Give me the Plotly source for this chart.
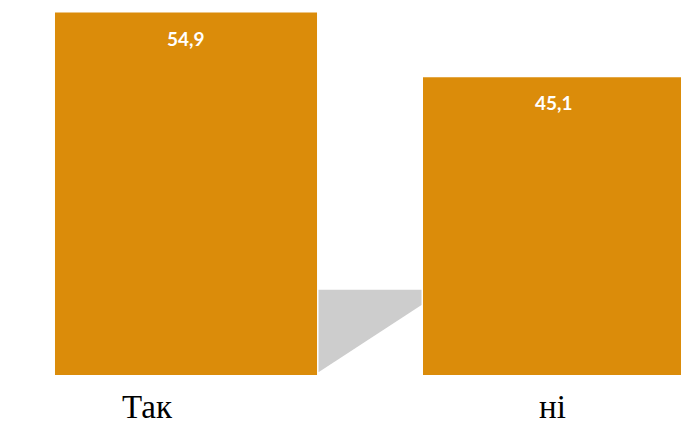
import plotly.graph_objects as go

categories = ["Так", "ні"]
values = [54.9, 45.1]
value_labels = [f"{v:.1f}".replace(".", ",") for v in values]

BAR_COLOR = "#DB8C0A"

fig = go.Figure()
fig.add_trace(go.Bar(
    x=[0, 1], y=values,
    marker=dict(color=BAR_COLOR, line=dict(width=0)),
    width=0.712,
    hoverinfo="skip",
))

# soft shadow between bars (decoration)
fig.add_shape(
    type="path",
    path="M 0.36,12.9 L 0.64,12.9 L 0.64,10.6 L 0.36,0.4 Z",
    xref="x", yref="y",
    fillcolor="#CDCDCD", line=dict(width=0), layer="below",
)

for i, (v, t) in enumerate(zip(values, value_labels)):
    fig.add_annotation(
        x=i, y=v, xref="x", yref="y", text=f"<b>{t}</b>",
        showarrow=False, yanchor="top", yshift=-12,
        font=dict(family="Lato, Open Sans, sans-serif", size=19, color="white"),
    )

label_x = [-0.105, 0.996]
for cx, c in zip(label_x, categories):
    fig.add_annotation(
        x=cx, y=0, xref="x", yref="y", text=c,
        showarrow=False, yanchor="middle", yshift=-32,
        font=dict(family="Liberation Serif, Times New Roman, serif", size=33, color="black"),
    )

fig.update_layout(
    width=681, height=416,
    margin=dict(l=0, r=0, t=0, b=49),
    paper_bgcolor="white", plot_bgcolor="white",
    showlegend=False,
    xaxis=dict(range=[-0.4837, 1.3668], visible=False, fixedrange=True),
    yaxis=dict(range=[0, 55.6], visible=False, fixedrange=True),
)

fig.write_html("out.html")
